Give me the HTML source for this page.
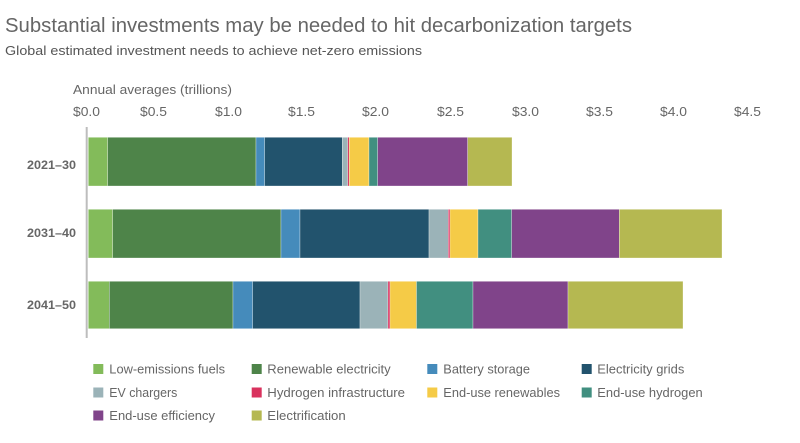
<!DOCTYPE html>
<html>
<head>
<meta charset="utf-8">
<style>
html,body{margin:0;padding:0;background:#fff;}
svg{display:block;}
text{font-family:"Liberation Sans",sans-serif;}
</style>
</head>
<body>
<svg width="800" height="443" viewBox="0 0 800 443" xmlns="http://www.w3.org/2000/svg">
<rect width="800" height="443" fill="#fff"/>
<text x="5" y="32" font-size="20" fill="#666" textLength="627" lengthAdjust="spacingAndGlyphs">Substantial investments may be needed to hit decarbonization targets</text>
<text x="5" y="55" font-size="13" fill="#555" textLength="417" lengthAdjust="spacingAndGlyphs">Global estimated investment needs to achieve net-zero emissions</text>
<text x="73" y="94" font-size="13" fill="#666" textLength="159" lengthAdjust="spacingAndGlyphs">Annual averages (trillions)</text>
<g font-size="13" fill="#666">
<text x="73" y="116" textLength="27" lengthAdjust="spacingAndGlyphs">$0.0</text>
<text x="140" y="116" textLength="27" lengthAdjust="spacingAndGlyphs">$0.5</text>
<text x="215" y="116" textLength="27" lengthAdjust="spacingAndGlyphs">$1.0</text>
<text x="288" y="116" textLength="27" lengthAdjust="spacingAndGlyphs">$1.5</text>
<text x="362" y="116" textLength="27" lengthAdjust="spacingAndGlyphs">$2.0</text>
<text x="437" y="116" textLength="27" lengthAdjust="spacingAndGlyphs">$2.5</text>
<text x="512" y="116" textLength="27" lengthAdjust="spacingAndGlyphs">$3.0</text>
<text x="586" y="116" textLength="27" lengthAdjust="spacingAndGlyphs">$3.5</text>
<text x="660" y="116" textLength="27" lengthAdjust="spacingAndGlyphs">$4.0</text>
<text x="734" y="116" textLength="27" lengthAdjust="spacingAndGlyphs">$4.5</text>
</g>
<g font-size="12" font-weight="bold" fill="#666" text-anchor="end">
<text x="76" y="169" textLength="49" lengthAdjust="spacingAndGlyphs">2021–30</text>
<text x="76" y="237" textLength="49" lengthAdjust="spacingAndGlyphs">2031–40</text>
<text x="76" y="309" textLength="49" lengthAdjust="spacingAndGlyphs">2041–50</text>
</g>
<g stroke="#ffffff" stroke-opacity="0.5" stroke-width="0.6">
<!-- bar 1 -->
<rect x="88.3" y="137.3" width="19.4" height="48.7" fill="#83bb5a"/>
<rect x="107.7" y="137.3" width="148.3" height="48.7" fill="#4e8449"/>
<rect x="256" y="137.3" width="8.7" height="48.7" fill="#458bbb"/>
<rect x="264.7" y="137.3" width="77.6" height="48.7" fill="#22536d"/>
<rect x="342.3" y="137.3" width="5.5" height="48.7" fill="#9bb3b8"/>
<rect x="347.8" y="137.3" width="1.5" height="48.7" fill="#d9325e"/>
<rect x="349.3" y="137.3" width="19.7" height="48.7" fill="#f5cb47"/>
<rect x="369" y="137.3" width="8.7" height="48.7" fill="#418f80"/>
<rect x="377.7" y="137.3" width="90" height="48.7" fill="#80448a"/>
<rect x="467.7" y="137.3" width="44.3" height="48.7" fill="#b5b851"/>
<!-- bar 2 -->
<rect x="88.3" y="209.3" width="24.4" height="48.7" fill="#83bb5a"/>
<rect x="112.7" y="209.3" width="168.3" height="48.7" fill="#4e8449"/>
<rect x="281" y="209.3" width="19" height="48.7" fill="#458bbb"/>
<rect x="300" y="209.3" width="129" height="48.7" fill="#22536d"/>
<rect x="429" y="209.3" width="19.3" height="48.7" fill="#9bb3b8"/>
<rect x="448.3" y="209.3" width="1.7" height="48.7" fill="#d9325e"/>
<rect x="450" y="209.3" width="28" height="48.7" fill="#f5cb47"/>
<rect x="478" y="209.3" width="33.7" height="48.7" fill="#418f80"/>
<rect x="511.7" y="209.3" width="107.6" height="48.7" fill="#80448a"/>
<rect x="619.3" y="209.3" width="102.7" height="48.7" fill="#b5b851"/>
<!-- bar 3 -->
<rect x="88.3" y="281.3" width="21" height="47.4" fill="#83bb5a"/>
<rect x="109.3" y="281.3" width="123.7" height="47.4" fill="#4e8449"/>
<rect x="233" y="281.3" width="19.7" height="47.4" fill="#458bbb"/>
<rect x="252.7" y="281.3" width="107.3" height="47.4" fill="#22536d"/>
<rect x="360" y="281.3" width="28" height="47.4" fill="#9bb3b8"/>
<rect x="388" y="281.3" width="2" height="47.4" fill="#d9325e"/>
<rect x="390" y="281.3" width="26.5" height="47.4" fill="#f5cb47"/>
<rect x="416.5" y="281.3" width="56.5" height="47.4" fill="#418f80"/>
<rect x="473" y="281.3" width="95" height="47.4" fill="#80448a"/>
<rect x="568" y="281.3" width="115" height="47.4" fill="#b5b851"/>
</g>
<line x1="86.7" y1="127" x2="86.7" y2="338" stroke="#bdbdbd" stroke-width="2"/>
<!-- legend -->
<g font-size="13" fill="#666">
<rect x="93.3" y="364" width="10" height="10" fill="#83bb5a"/>
<text x="109.3" y="373.5" textLength="115.7" lengthAdjust="spacingAndGlyphs">Low-emissions fuels</text>
<rect x="251.7" y="364" width="10" height="10" fill="#4e8449"/>
<text x="267.3" y="373.5" textLength="123.4" lengthAdjust="spacingAndGlyphs">Renewable electricity</text>
<rect x="427.3" y="364" width="10" height="10" fill="#458bbb"/>
<text x="443.3" y="373.5" textLength="86.7" lengthAdjust="spacingAndGlyphs">Battery storage</text>
<rect x="581.7" y="364" width="10" height="10" fill="#22536d"/>
<text x="597.3" y="373.5" textLength="87" lengthAdjust="spacingAndGlyphs">Electricity grids</text>

<rect x="93.3" y="387.5" width="10" height="10" fill="#9bb3b8"/>
<text x="109.3" y="397" textLength="68" lengthAdjust="spacingAndGlyphs">EV chargers</text>
<rect x="251.7" y="387.5" width="10" height="10" fill="#d9325e"/>
<text x="267.3" y="397" textLength="137.7" lengthAdjust="spacingAndGlyphs">Hydrogen infrastructure</text>
<rect x="427.3" y="387.5" width="10" height="10" fill="#f5cb47"/>
<text x="443.3" y="397" textLength="116.7" lengthAdjust="spacingAndGlyphs">End-use renewables</text>
<rect x="581.7" y="387.5" width="10" height="10" fill="#418f80"/>
<text x="597.3" y="397" textLength="105.4" lengthAdjust="spacingAndGlyphs">End-use hydrogen</text>

<rect x="93.3" y="410.5" width="10" height="10" fill="#80448a"/>
<text x="109.3" y="420" textLength="105.7" lengthAdjust="spacingAndGlyphs">End-use efficiency</text>
<rect x="251.7" y="410.5" width="10" height="10" fill="#b5b851"/>
<text x="267.3" y="420" textLength="78.4" lengthAdjust="spacingAndGlyphs">Electrification</text>
</g>
</svg>
</body>
</html>
